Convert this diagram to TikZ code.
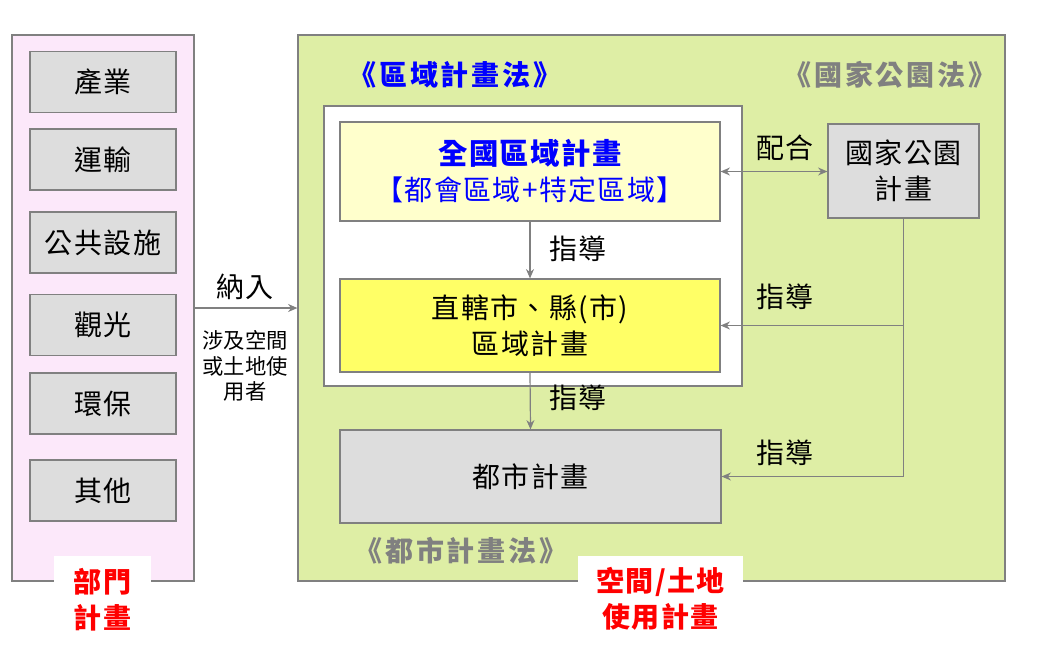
\documentclass[tikz,border=0pt]{standalone}
\usepackage{fontspec}
\setmainfont{Noto Sans CJK TC}
\newfontfamily\cjksp[LetterSpace=5]{Noto Sans CJK TC}
\newfontfamily\cjkwide[LetterSpace=10]{Noto Sans CJK TC}
\usetikzlibrary{arrows.meta}
\definecolor{bord}{RGB}{128,128,128}
\definecolor{pinkbg}{RGB}{252,232,250}
\definecolor{greenbg}{RGB}{222,238,165}
\definecolor{lightyel}{RGB}{255,255,204}
\definecolor{yel}{RGB}{255,255,102}
\definecolor{grayfill}{RGB}{221,221,221}
\definecolor{blu}{RGB}{0,0,255}
\definecolor{redt}{RGB}{255,0,0}
\tikzset{
  panel/.style={draw=bord, line width=0.9pt, inner sep=0pt},
  box/.style={draw=bord, line width=0.9pt, inner sep=0pt, align=center, font=\cjksp\fontsize{21}{27}\selectfont},
  sidebox/.style={box, fill=grayfill, minimum width=109.5pt, minimum height=45.75pt},
  lbl/.style={inner sep=0pt, align=center, font=\cjksp\fontsize{21}{27}\selectfont},
  law/.style={inner sep=0pt, font=\cjkwide\bfseries\fontsize{21}{24}\selectfont},
  redlbl/.style={inner sep=0pt, align=center, text=redt, font=\cjksp\bfseries\fontsize{21}{27}\selectfont},
  arr/.style={draw=bord, line width=0.9pt, -{Stealth[length=7pt,width=6pt]}},
  darr/.style={draw=bord, line width=0.9pt, {Stealth[length=7pt,width=6pt]}-{Stealth[length=7pt,width=6pt]}}
}
\begin{document}
\begin{tikzpicture}[x=0.75pt,y=-0.75pt]
\useasboundingbox[fill=white] (0,0) rectangle (1044,644);
% panels
\node[panel, fill=pinkbg, minimum width=136.5pt, minimum height=409.5pt] (lp) at (103,308) {};
\node[panel, fill=greenbg, minimum width=530.25pt, minimum height=409.5pt] (gp) at (651.5,308) {};
\node[panel, fill=white, minimum width=313.5pt, minimum height=210pt] (wb) at (533,246) {};
% white label patches
\node[fill=white, minimum width=72.75pt, minimum height=66pt, inner sep=0pt] (p1) at (102.5,600) {};
\node[fill=white, minimum width=123.75pt, minimum height=66pt, inner sep=0pt] (p2) at (660.5,600) {};
\node[redlbl] (bm) at (102.5,600) {部門\\計畫};
\node[redlbl] (kj) at (660.5,599) {空間/土地\\使用計畫};
% left boxes
\node[sidebox] (s1) at (103,82) {產業};
\node[sidebox] (s2) at (103,159.5) {運輸};
\node[sidebox] (s3) at (103,242.5) {公共設施};
\node[sidebox] (s4) at (103,325) {觀光};
\node[sidebox] (s5) at (103,403.5) {環保};
\node[sidebox] (s6) at (103,490.5) {其他};
% law titles
\node[law, text=blu] (l1) at (455,75) {《區域計畫法》};
\node[law, text=bord] (l2) at (890,75) {《國家公園法》};
\node[law, text=bord] (l3) at (461,551) {《都市計畫法》};
% main boxes
\node[box, fill=lightyel, text=blu, minimum width=285pt, minimum height=74.25pt] (qg) at (530,171.5)
  {{\bfseries\fontsize{22}{27}\selectfont 全國區域計畫}\\【都會區域+特定區域】};
\node[box, fill=yel, minimum width=285pt, minimum height=69.75pt] (zx) at (530,325.5) {直轄市、縣(市)\\區域計畫};
\node[box, fill=grayfill, minimum width=285.75pt, minimum height=69.75pt] (ds) at (530.5,476.5) {都市計畫};
\node[box, fill=grayfill, minimum width=113.25pt, minimum height=70.5pt] (gj) at (903.5,171) {國家公園\\計畫};
% connectors
\draw[arr] (lp.east) -- (gp.west);
\node[lbl] (nr) at (245,287) {納入};
\node[inner sep=0pt, align=center, font=\fontsize{16}{19.2}\selectfont] (sj) at (245,366) {涉及空間\\或土地使\\用者};
\draw[darr] (gj.west |- qg.east) -- (qg.east);
\node[lbl] (ph) at (785,148) {配合};
\draw[arr] (qg.south) -- (zx.north);
\node[lbl] (zd1) at (578,249) {指導};
\draw[arr] (zx.south) -- (ds.north);
\node[lbl] (zd2) at (578,398) {指導};
\coordinate (br) at (gj.south |- zx.east);
\draw[arr] (gj.south) |- (ds.east);
\draw[arr] (br) -- (zx.east);
\node[lbl] (zd3) at (785,297) {指導};
\node[lbl] (zd4) at (785,453) {指導};
\end{tikzpicture}
\end{document}
